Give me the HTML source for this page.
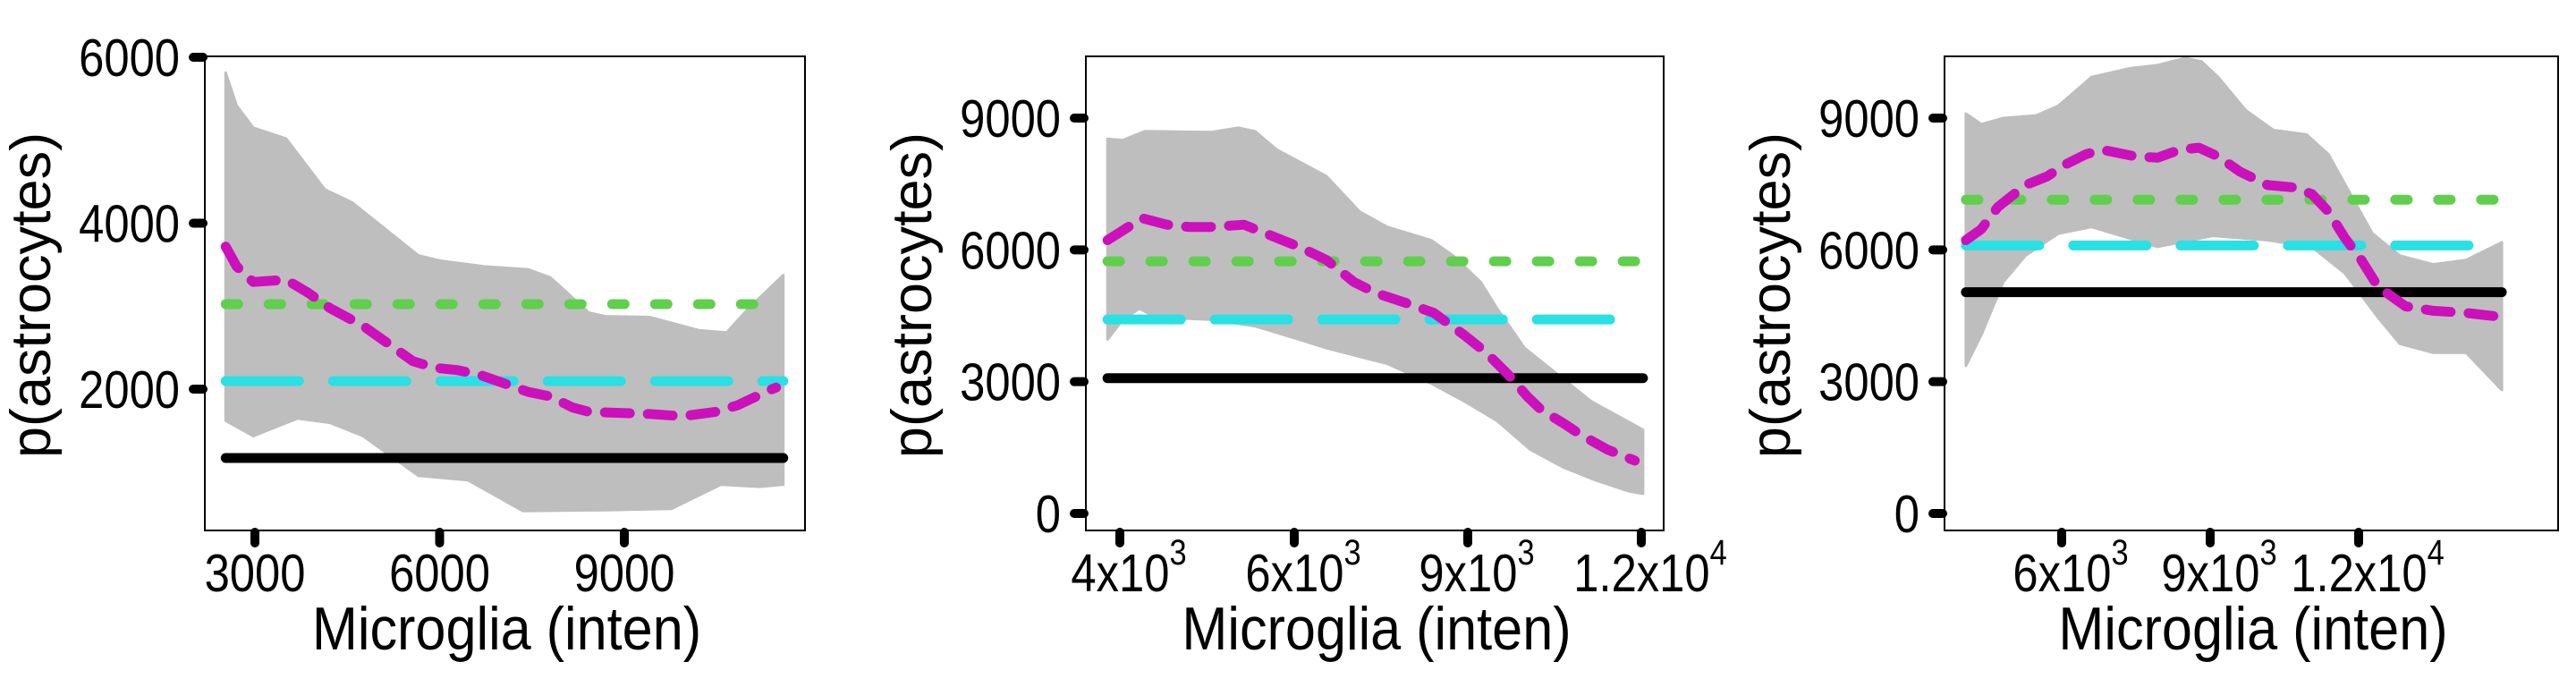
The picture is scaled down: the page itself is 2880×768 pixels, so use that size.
<!DOCTYPE html>
<html><head><meta charset="utf-8">
<style>
html,body{margin:0;padding:0;background:#fff;}
svg{display:block;font-family:"Liberation Sans",Arial,sans-serif;}
</style></head>
<body>
<svg id="chart" width="2880" height="768" viewBox="0 0 2880 768" xmlns="http://www.w3.org/2000/svg"></svg>
<script>
// ---------- Panel 1 data ----------
const p1YTicks = [2000, 4000, 6000];
const p1XTicks = [3000, 6000, 9000];
const p1XTickLabels = ["3000", "6000", "9000"];
const p1FitX = [2525,2704,2972,3509,3866,4224,4760,5565,5923,6280,6638,7442,7800,8158,8426,9409,9946,10482,10840,11376,11465];
const p1FitY = [3717,3478,3292,3319,3160,2974,2761,2337,2257,2230,2177,1965,1912,1779,1726,1700,1673,1726,1806,1992,2018];
const p1UpX = [2525,2704,2972,3509,4135,4582,5654,6012,6727,7442,7800,8426,8694,9409,10214,10661,11018,11582];
const p1UpY = [5814,5416,5150,5018,4407,4248,3611,3547,3478,3441,3345,2921,2878,2868,2708,2682,2974,3372];
const p1LoX = [2525,2972,3688,4224,4760,5654,6459,7353,8694,9767,10571,11197,11582];
const p1LoY = [1620,1434,1646,1593,1434,956,903,532,542,558,850,824,850];
const p1Levels = {black: 1170, cyan: 2097, green: 3024};
const p1XRange = [2525, 11582];

// ---------- Panel 2 data ----------
const p2YTicks = [0, 3000, 6000, 9000];
const p2XTicks = [4000, 6000, 9000, 12000];
const p2XTickMant = ["4x10", "6x10", "9x10", "1.2x10"];
const p2XTickExp = ["3", "3", "3", "4"];
const p2FitX = [3858,4097,4255,4539,4792,5044,5423,5676,6082,6558,7033,7415,7986,8414,8937,9317,9699,10032,10270,10650,10936,11411,11887];
const p2FitY = [6220,6522,6722,6572,6522,6522,6572,6371,6070,5769,5267,5017,4766,4565,4063,3662,3160,2659,2358,2057,1806,1455,1204];
const p2UpX = [3858,4035,4287,5044,5360,5550,5802,6272,6558,7129,7605,8366,8746,9223,9507,9983,10460,11126,12029];
const p2UpY = [8528,8498,8699,8679,8779,8699,8277,7876,7675,6873,6521,6220,5869,5267,4665,3762,3261,2558,1906];
const p2LoX = [3858,4035,4224,4413,5044,5550,6082,6558,7605,8366,8937,9507,10079,10650,11220,11791,12029];
const p2LoY = [3963,4415,4665,4465,4415,4264,3963,3762,3411,2960,2558,2107,1455,1053,752,502,451];
const p2Levels = {black: 3080, cyan: 4415, green: 5739};
const p2XRange = [3858, 12029];

// ---------- Panel 3 data ----------
const p3YTicks = [0, 3000, 6000, 9000];
const p3XTicks = [6000, 9000, 12000];
const p3XTickMant = ["6x10", "9x10", "1.2x10"];
const p3XTickExp = ["3", "3", "4"];
const p3FitX = [4064,4375,4709,5266,5711,6045,6490,6824,7492,7937,8382,8772,9161,9607,10163,10664,11053,11387,11721,12055,12389,12946,13503,14171,14950];
const p3FitY = [6220,6471,6973,7475,7675,7926,8177,8277,8127,8097,8277,8327,8127,7776,7475,7424,7274,6873,6271,5769,5167,4716,4615,4565,4465];
const p3UpX = [4064,4375,4820,5488,5934,6601,7381,7937,8494,8827,9161,9718,10274,10942,11387,11833,12278,12834,13502,14170,14893];
const p3UpY = [9100,8859,9000,9060,9281,9933,10133,10204,10364,10284,9933,9180,8729,8628,8177,7274,6371,5869,5669,5769,6170];
const p3LoX = [4064,4375,4820,5266,5934,6601,7046,7937,9050,10163,11053,11721,12389,12834,13502,14170,14893];
const p3LoY = [3361,4063,5267,5869,6371,6521,6371,6070,6321,6220,6070,5468,4465,3862,3662,3662,2809];
const p3Levels = {black: 5037, cyan: 6100, green: 7143};
const p3XRange = [4064, 14893];

const NS = "http://www.w3.org/2000/svg";
const svg = document.getElementById("chart");
function mk(tag, attrs, parent){
  const e = document.createElementNS(NS, tag);
  for (const k in attrs) e.setAttribute(k, attrs[k]);
  (parent||svg).appendChild(e);
  return e;
}
function linScale(d0,d1,r0,r1){ return v => r0 + (v-d0)/(d1-d0)*(r1-r0); }
function polyScale(dom, rng){
  return v => {
    let i = 0;
    if (v >= dom[dom.length-1]) i = dom.length-2;
    else while (i < dom.length-2 && v > dom[i+1]) i++;
    return rng[i] + (v-dom[i])/(dom[i+1]-dom[i])*(rng[i+1]-rng[i]);
  };
}
const SX = 0.86; // condensed text

function drawPanel(id, box, xs, ys, yTicks, xTicks, xLabelsMain, xLabelsExp, fitX, fitY, upX, upY, loX, loY, levels, xRange, yLabelRight){
  const g = mk("g", {});
  
  
  let d = "";
  upX.forEach((x,i)=>{ d += (i?"L":"M") + xs(x).toFixed(1) + "," + ys(upY[i]).toFixed(1); });
  for (let i = loX.length-1; i >= 0; i--) d += "L" + xs(loX[i]).toFixed(1) + "," + ys(loY[i]).toFixed(1);
  d += "Z";
  const band = mk("path", {d: d, fill: "#bebebe", stroke: "#bebebe", "stroke-width": 3, "stroke-linejoin":"round"}, g);
  
  
  const x0 = xs(xRange[0]), x1 = xs(xRange[1]);
  const lg = mk("line", {x1:x0, x2:x1, y1:ys(levels.green), y2:ys(levels.green), stroke:"#5fcf4c", "stroke-width":11, "stroke-linecap":"round", "stroke-dasharray":"14 34"}, g);
  
  
  const lc = mk("line", {x1:x0, x2:x1, y1:ys(levels.cyan), y2:ys(levels.cyan), stroke:"#29e0e4", "stroke-width":11, "stroke-linecap":"round", "stroke-dasharray":"82 38"}, g);
  
  
  const lb = mk("line", {x1:x0, x2:x1, y1:ys(levels.black), y2:ys(levels.black), stroke:"#000", "stroke-width":11, "stroke-linecap":"round"}, g);
  
  
  const pts = fitX.map((x,i)=> xs(x).toFixed(1)+","+ys(fitY[i]).toFixed(1)).join(" ");
  const fit = mk("polyline", {points: pts, fill:"none", stroke:"#cc10bb", "stroke-width":11, "stroke-linecap":"round", "stroke-linejoin":"round", "stroke-dasharray":"28 20"}, g);
  
  
  const fr = mk("rect", {x:box.l, y:box.t, width:box.r-box.l, height:box.b-box.t, fill:"none", stroke:"#000", "stroke-width":2}, g);
  
  
  yTicks.forEach(v=>{
    const y = ys(v);
    const t = mk("line", {x1:box.l-13, x2:box.l-2, y1:y, y2:y, stroke:"#000", "stroke-width":10, "stroke-linecap":"round"}, g);
    
    
    const tg = mk("g", {transform:"translate("+yLabelRight+","+(y+21)+") scale("+SX+",1)"}, g);
    const tx = mk("text", {x:0, y:0, "text-anchor":"end", "font-size":59, fill:"#000"}, tg);
    tx.textContent = String(v);
    
    
  });
  xTicks.forEach((v,i)=>{
    const x = xs(v);
    const t = mk("line", {x1:x, x2:x, y1:box.b+2, y2:box.b+14, stroke:"#000", "stroke-width":10, "stroke-linecap":"round"}, g);
    
    
    const tg = mk("g", {transform:"translate("+(xLabelsExp ? x+10 : x)+","+(box.b+68)+") scale("+SX+",1)"}, g);
    const tx = mk("text", {x:0, y:0, "text-anchor":"middle", "font-size":59, fill:"#000"}, tg);
    
    
    if (xLabelsExp) {
      const a = mk("tspan", {}, tx); a.textContent = xLabelsMain[i];
      const b = mk("tspan", {"font-size":40, dy:-30}, tx); b.textContent = xLabelsExp[i];
    } else tx.textContent = xLabelsMain[i];
  });
  const cx = (box.l+box.r)/2 + 2;
  const xg = mk("g", {transform:"translate("+cx+",726) scale(0.9,1)"}, g);
  const xt = mk("text", {x:0, y:0, "text-anchor":"middle", "font-size":68, fill:"#000"}, xg);
  xt.textContent = "Microglia (inten)";
  
  
  const yx = box.l - 229 + 56, yy = 330;
  const yt = mk("text", {x:yx, y:yy, "text-anchor":"middle", "font-size":63, fill:"#000", transform:"rotate(-90 "+yx+" "+yy+")"}, g);
  yt.textContent = "p(astrocytes)";
  
  
}

const b1 = {l:229, r:900, t:63, b:593};
drawPanel("panel-1", b1,
  linScale(3000, 9000, 285, 698), linScale(2000, 6000, 435, 64),
  p1YTicks, p1XTicks, p1XTickLabels, null,
  p1FitX, p1FitY, p1UpX, p1UpY, p1LoX, p1LoY, p1Levels, p1XRange, 201);
const b2 = {l:1214, r:1860, t:63, b:593};
drawPanel("panel-2", b2,
  polyScale([4000,6000,9000,12000],[1252,1447,1641,1835]), linScale(0, 9000, 574, 132),
  p2YTicks, p2XTicks, p2XTickMant, p2XTickExp,
  p2FitX, p2FitY, p2UpX, p2UpY, p2LoX, p2LoY, p2Levels, p2XRange, 1186);
const b3 = {l:2174, r:2860, t:63, b:593};
drawPanel("panel-3", b3,
  linScale(6000, 12000, 2305, 2637), linScale(0, 9000, 574, 132),
  p3YTicks, p3XTicks, p3XTickMant, p3XTickExp,
  p3FitX, p3FitY, p3UpX, p3UpY, p3LoX, p3LoY, p3Levels, p3XRange, 2146);
</script>
</body></html>
